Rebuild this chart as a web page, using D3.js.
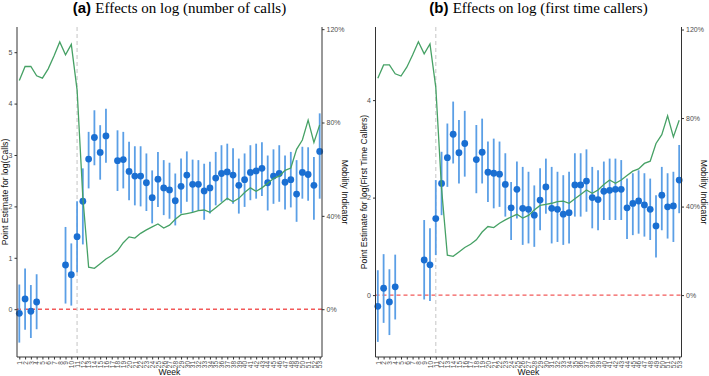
<!DOCTYPE html>
<html>
<head>
<meta charset="utf-8">
<script src="https://cdn.jsdelivr.net/npm/d3@7"></script>
<style>
  html, body { margin: 0; padding: 0; background: #fff; }
  svg { display: block; }
  .axis text { font-family: "Liberation Sans", Arial, sans-serif; fill: #4d4d4d; }
  .axis path, .axis line { stroke: #333; }
</style>
</head>
<body>
<div id="canvas"></div>
<script>
"use strict";

/* Chart data */
let weeks = [1, 2, 3, 4, 5, 6, 7, 8, 9, 10, 11, 12, 13, 14, 15, 16, 17, 18, 19, 20,
    21, 22, 23, 24, 25, 26, 27, 28, 29, 30, 31, 32, 33, 34, 35, 36, 37, 38, 39, 40,
    41, 42, 43, 44, 45, 46, 47, 48, 49, 50, 51, 52, 53];

// mobility indicator (%), one value per week
let mobility = [98, 104, 104, 100, 99, 103, 108.5, 114.5, 109, 113.5, 94, 48, 18, 17.5, 19.5, 21.5, 23, 25, 28.5, 31,
    30.5, 32.5, 34, 35.3, 36.5, 34.8, 36, 38.5, 40.5, 41, 41.5, 42.2, 42.5, 41.5, 43.5, 45.5, 47.5, 46, 47.5, 50,
    52, 50.5, 52, 54, 56, 57, 59.5, 60.5, 68.5, 72.5, 81, 71.5, 79];

// (a) log(number of calls): estimate, lower and upper bound (null = no estimate)
let callsEst = [-0.08, 0.2, -0.04, 0.14, null, null, null, null, 0.86, 0.67, 1.41, 2.1, 2.92, 3.34, 3.05, 3.37, null, 2.89, 2.91, 2.68,
    2.59, 2.59, 2.46, 2.17, 2.53, 2.36, 2.32, 2.11, 2.39, 2.61, 2.43, 2.43, 2.3, 2.36, 2.55, 2.64, 2.67, 2.61, 2.41, 2.52,
    2.66, 2.69, 2.74, 2.46, 2.59, 2.64, 2.47, 2.52, 2.24, 2.66, 2.62, 2.41, 3.07];
let callsLo = [-0.65, -0.4, -0.56, -0.39, null, null, null, null, 0.11, 0.07, 0.72, 1.26, 2.35, 2.8, 2.52, 2.85, null, 2.3, 2.35, 2.12,
    2.02, 2.0, 1.91, 1.67, 1.99, 1.83, 1.76, 1.63, 1.86, 2.09, 1.89, 1.92, 1.74, 1.86, 2.02, 2.09, 2.12, 2.05, 1.86, 1.99,
    2.12, 2.15, 2.2, 1.92, 2.05, 2.09, 1.94, 1.98, 1.7, 2.15, 2.11, 1.74, 2.15];
let callsHi = [0.48, 0.79, 0.47, 0.68, null, null, null, null, 1.6, 1.28, 2.1, 2.74, 3.45, 3.87, 3.58, 3.9, null, 3.48, 3.45, 3.26,
    3.17, 3.17, 3.03, 2.7, 3.06, 2.9, 2.85, 2.64, 2.93, 3.07, 2.91, 2.9, 2.83, 2.87, 3.06, 3.19, 3.22, 3.13, 2.93, 3.03,
    3.19, 3.22, 3.25, 2.99, 3.11, 3.19, 2.99, 3.06, 2.9, 3.16, 3.15, 2.96, 3.81];

// (b) log(first time callers)
let firstEst = [-0.23, 0.14, -0.14, 0.17, null, null, null, null, 0.72, 0.62, 1.57, 2.29, 2.82, 3.3, 2.92, 3.11, null, 2.78, 2.93, 2.52,
    2.5, 2.48, 2.27, 1.79, 2.17, 1.78, 1.76, 1.64, 1.95, 2.22, 1.78, 1.76, 1.66, 1.69, 2.26, 2.26, 2.34, 2.0, 1.96, 2.13,
    2.15, 2.17, 2.17, 1.79, 1.88, 1.93, 1.85, 1.76, 1.42, 2.05, 1.81, 1.83, 2.36];
let firstLo = [-0.96, -0.57, -0.82, -0.5, null, null, null, null, -0.09, -0.12, 0.82, 1.64, 2.22, 2.7, 2.29, 2.43, null, 2.09, 2.29, 1.91,
    1.78, 1.81, 1.61, 1.13, 1.57, 1.03, 1.06, 0.99, 1.33, 1.67, 1.06, 1.09, 1.03, 1.06, 1.61, 1.61, 1.71, 1.37, 1.33, 1.54,
    1.54, 1.54, 1.54, 1.15, 1.23, 1.26, 1.2, 1.13, 0.77, 1.33, 1.16, 1.09, 1.68];
let firstHi = [0.51, 0.84, 0.53, 0.83, null, null, null, null, 1.54, 1.37, 2.36, 2.94, 3.52, 3.97, 3.59, 3.78, null, 3.49, 3.62, 3.15,
    3.21, 3.15, 2.91, 2.32, 2.74, 2.63, 2.53, 2.25, 2.6, 2.8, 2.63, 2.53, 2.46, 2.53, 2.91, 2.91, 2.99, 2.63, 2.56, 2.74,
    2.8, 2.8, 2.77, 2.39, 2.5, 2.56, 2.5, 2.39, 2.05, 2.63, 2.5, 2.53, 3.08];

let leftTicksA = [0, 1, 2, 3, 4, 5];
let leftTicksB = [0, 2, 4];
let rightTicks = [0, 40, 80, 120];
let lockdownWeek = 11;

/* Layout */
let svgWidth = 709;
let svgHeight = 376;
let plotTop = 27;
let plotBottom = 357;
let mobilityFactor = 4.54; // left-axis units that equal 100% mobility

let svg;

(function() {
    svg = d3.select("#canvas")
        .append("svg")
        .attr("width", svgWidth)
        .attr("height", svgHeight);

    drawPanel({
        left: 17, right: 322,
        yDomain: [-0.93, 5.49],
        est: callsEst, lo: callsLo, hi: callsHi,
        leftTicks: leftTicksA,
        tag: "(a)", title: "Effects on log (number of calls)",
        yLabel: "Point Estimate for log(Calls)"
    });

    drawPanel({
        left: 375.5, right: 681.5,
        yDomain: [-1.27, 5.5],
        est: firstEst, lo: firstLo, hi: firstHi,
        leftTicks: leftTicksB,
        tag: "(b)", title: "Effects on log (first time callers)",
        yLabel: "Point Estimate for log(First Time Callers)"
    });
})();

function drawPanel(p) {
    let g = svg.append("g");

    let xScale = d3.scaleLinear()
        .domain([0.6, 53.4])
        .range([p.left, p.right]);

    let yScale = d3.scaleLinear()
        .domain(p.yDomain)
        .range([plotBottom, plotTop]);

    // secondary axis: mobility in %, tied to the left axis
    let yRight = d3.scaleLinear()
        .domain([p.yDomain[0] * 100 / mobilityFactor, p.yDomain[1] * 100 / mobilityFactor])
        .range([plotBottom, plotTop]);

    // reference lines
    g.append("line")
        .attr("x1", p.left).attr("x2", p.right)
        .attr("y1", yScale(0)).attr("y2", yScale(0))
        .attr("stroke", "#f25a5a")
        .attr("stroke-width", 1.4)
        .attr("stroke-dasharray", "4,3");

    g.append("line")
        .attr("x1", xScale(lockdownWeek)).attr("x2", xScale(lockdownWeek))
        .attr("y1", plotTop).attr("y2", plotBottom)
        .attr("stroke", "#cfcfcf")
        .attr("stroke-width", 1.2)
        .attr("stroke-dasharray", "4,3");

    // confidence intervals and estimates
    let rows = [];
    for (let i = 0; i < weeks.length; i++) {
        if (p.est[i] !== null) {
            rows.push({ week: weeks[i], est: p.est[i], lo: p.lo[i], hi: p.hi[i] });
        }
    }

    g.selectAll("line.ci")
        .data(rows)
        .join("line")
        .attr("class", "ci")
        .attr("x1", function(d) { return xScale(d.week); })
        .attr("x2", function(d) { return xScale(d.week); })
        .attr("y1", function(d) { return yScale(d.lo); })
        .attr("y2", function(d) { return yScale(d.hi); })
        .attr("stroke", "#5b9fe6")
        .attr("stroke-width", 1.8);

    g.selectAll("circle.est")
        .data(rows)
        .join("circle")
        .attr("class", "est")
        .attr("cx", function(d) { return xScale(d.week); })
        .attr("cy", function(d) { return yScale(d.est); })
        .attr("r", 3.4)
        .attr("fill", "#1a6fd2");

    // mobility line
    let line = d3.line()
        .x(function(d, i) { return xScale(weeks[i]); })
        .y(function(d) { return yRight(d); });

    g.append("path")
        .datum(mobility)
        .attr("d", line)
        .attr("fill", "none")
        .attr("stroke", "#46a165")
        .attr("stroke-width", 1.3);

    // axes
    let xAxis = d3.axisBottom(xScale)
        .tickValues(weeks)
        .tickFormat(function(d) { return d; })
        .tickSize(2.5)
        .tickSizeOuter(0);

    let xg = g.append("g")
        .attr("class", "axis")
        .attr("transform", "translate(0," + plotBottom + ")")
        .call(xAxis);
    xg.select(".domain").attr("d", "M" + p.left + ",0H" + p.right);
    xg.selectAll("text")
        .attr("transform", "rotate(-90)")
        .attr("text-anchor", "end")
        .attr("x", -4)
        .attr("y", 0)
        .attr("dy", "0.35em")
        .style("font-size", "6.5px");

    let yAxis = d3.axisLeft(yScale)
        .tickValues(p.leftTicks)
        .tickFormat(function(d) { return d; })
        .tickSize(2.5)
        .tickPadding(2)
        .tickSizeOuter(0);

    let yg = g.append("g")
        .attr("class", "axis")
        .attr("transform", "translate(" + p.left + ",0)")
        .call(yAxis);
    yg.select(".domain").attr("d", "M0," + plotTop + "V" + plotBottom);
    yg.selectAll("text").style("font-size", "7px");

    let rAxis = d3.axisRight(yRight)
        .tickValues(rightTicks)
        .tickFormat(function(d) { return d + "%"; })
        .tickSize(2.5)
        .tickPadding(2)
        .tickSizeOuter(0);

    let rg = g.append("g")
        .attr("class", "axis")
        .attr("transform", "translate(" + p.right + ",0)")
        .call(rAxis);
    rg.select(".domain").attr("d", "M0," + plotTop + "V" + plotBottom);
    rg.selectAll("text").style("font-size", "7px");

    // axis titles
    let midY = (plotTop + plotBottom) / 2;

    g.append("text")
        .attr("transform", "translate(" + (p.left - 9) + "," + midY + ") rotate(-90)")
        .attr("text-anchor", "middle")
        .style("font-family", "Liberation Sans, Arial, sans-serif")
        .style("font-size", "8.6px")
        .attr("fill", "#111")
        .text(p.yLabel);

    g.append("text")
        .attr("transform", "translate(" + (p.right + 19.5) + "," + midY + ") rotate(90)")
        .attr("text-anchor", "middle")
        .style("font-family", "Liberation Sans, Arial, sans-serif")
        .style("font-size", "8.6px")
        .attr("fill", "#111")
        .text("Mobility Indicator");

    g.append("text")
        .attr("x", (p.left + p.right) / 2)
        .attr("y", 375)
        .attr("text-anchor", "middle")
        .style("font-family", "Liberation Sans, Arial, sans-serif")
        .style("font-size", "8.6px")
        .attr("fill", "#111")
        .text("Week");

    // panel title: bold tag in sans, rest in serif
    let title = g.append("text")
        .attr("x", (p.left + p.right) / 2 + 10)
        .attr("y", 13)
        .attr("text-anchor", "middle")
        .attr("fill", "#000")
        .style("font-size", "15px");
    title.append("tspan")
        .style("font-family", "Liberation Sans, Arial, sans-serif")
        .style("font-weight", "bold")
        .text(p.tag + " ");
    title.append("tspan")
        .style("font-family", "Liberation Serif, Times New Roman, serif")
        .text(p.title);
}
</script>
</body>
</html>
